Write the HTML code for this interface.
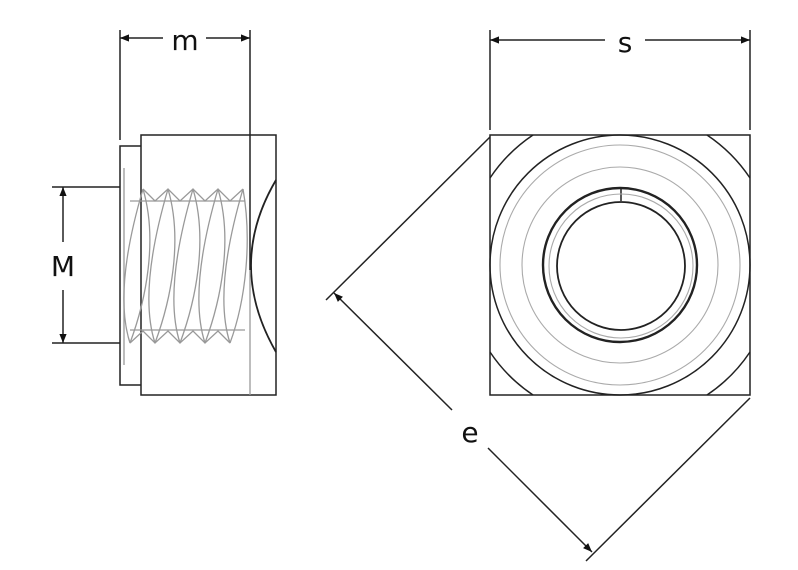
<!DOCTYPE html>
<html><head><style>html,body{margin:0;padding:0;background:#fff}svg{display:block}</style></head>
<body>
<svg width="798" height="570" viewBox="0 0 798 570" xmlns="http://www.w3.org/2000/svg" font-family="'DejaVu Sans','Liberation Sans',sans-serif">
<defs>
<marker id="a" viewBox="0 0 10 10" refX="10" refY="5" markerWidth="14" markerHeight="9" markerUnits="userSpaceOnUse" orient="auto-start-reverse"><path d="M0,1 L10,5 L0,9 Z" fill="#111"/></marker>
</defs>
<g stroke="#222" stroke-width="1.5" fill="none">
<rect x="141" y="135" width="135" height="260"/>
<path d="M141,146 H120 V385 H141"/>
<path d="M276,180 Q226,265 276,352" stroke-width="1.8"/>
<line x1="250" y1="30" x2="250" y2="270"/>
<line x1="120" y1="30" x2="120" y2="140"/>
<line x1="52" y1="187" x2="120" y2="187"/>
<line x1="52" y1="343" x2="120" y2="343"/>
<line x1="63" y1="187" x2="63" y2="242" marker-start="url(#a)"/>
<line x1="63" y1="290" x2="63" y2="343" marker-end="url(#a)"/>
<line x1="120" y1="38" x2="163" y2="38" marker-start="url(#a)"/>
<line x1="206" y1="38" x2="250" y2="38" marker-end="url(#a)"/>
</g>
<g stroke="#999" stroke-width="1.3" fill="none">
<line x1="250" y1="270" x2="250" y2="395"/>
<path d="M124,168 V365"/>
<path d="M130,201 H245 M130,330 H245"/>
<path d="M143,189 C158,240 146,300 130,343 M143,189 C128,240 116,300 130,343"/>
<path d="M168,189 C183,240 171,300 155,343 M168,189 C153,240 141,300 155,343"/>
<path d="M193,189 C208,240 196,300 180,343 M193,189 C178,240 166,300 180,343"/>
<path d="M218,189 C233,240 221,300 205,343 M218,189 C203,240 191,300 205,343"/>
<path d="M243,189 C252,240 246,300 230,343 M243,189 C228,240 216,300 230,343"/>
<path d="M143,189 L155,201 L168,189 L180,201 L193,189 L205,201 L218,189 L230,201 L243,189"/>
<path d="M130,343 L143,331 L155,343 L168,331 L180,343 L193,331 L205,343 L218,331 L230,343"/>
</g>
<g stroke="#222" stroke-width="1.5" fill="none">
<rect x="490" y="135" width="260" height="260"/>
<circle cx="620" cy="265" r="130"/>
<path d="M490,178 A156,156 0 0 1 533,135 M707,135 A156,156 0 0 1 750,178 M750,352 A156,156 0 0 1 707,395 M533,395 A156,156 0 0 1 490,352"/>
<circle cx="620" cy="265" r="77" stroke-width="2.4"/>
<circle cx="621" cy="266" r="64" stroke-width="1.8"/>
<line x1="621" y1="189" x2="621" y2="201"/>
<line x1="490" y1="30" x2="490" y2="130"/>
<line x1="750" y1="30" x2="750" y2="130"/>
<line x1="490" y1="40" x2="605" y2="40" marker-start="url(#a)"/>
<line x1="645" y1="40" x2="750" y2="40" marker-end="url(#a)"/>
<line x1="490" y1="137" x2="326" y2="300"/>
<line x1="750" y1="398" x2="586" y2="561"/>
<line x1="452" y1="410" x2="334" y2="293" marker-end="url(#a)"/>
<line x1="488" y1="448" x2="592" y2="552" marker-end="url(#a)"/>
</g>
<g stroke="#aaa" stroke-width="1.1" fill="none">
<circle cx="620" cy="265" r="120"/>
<circle cx="620" cy="265" r="98"/>
<circle cx="621" cy="266" r="72"/>
</g>
<g fill="#111" font-size="28" text-anchor="middle">
<text x="185" y="50">m</text>
<text x="625" y="52">s</text>
<text x="63" y="276">M</text>
<text x="470" y="442">e</text>
</g>
</svg>
</body></html>
